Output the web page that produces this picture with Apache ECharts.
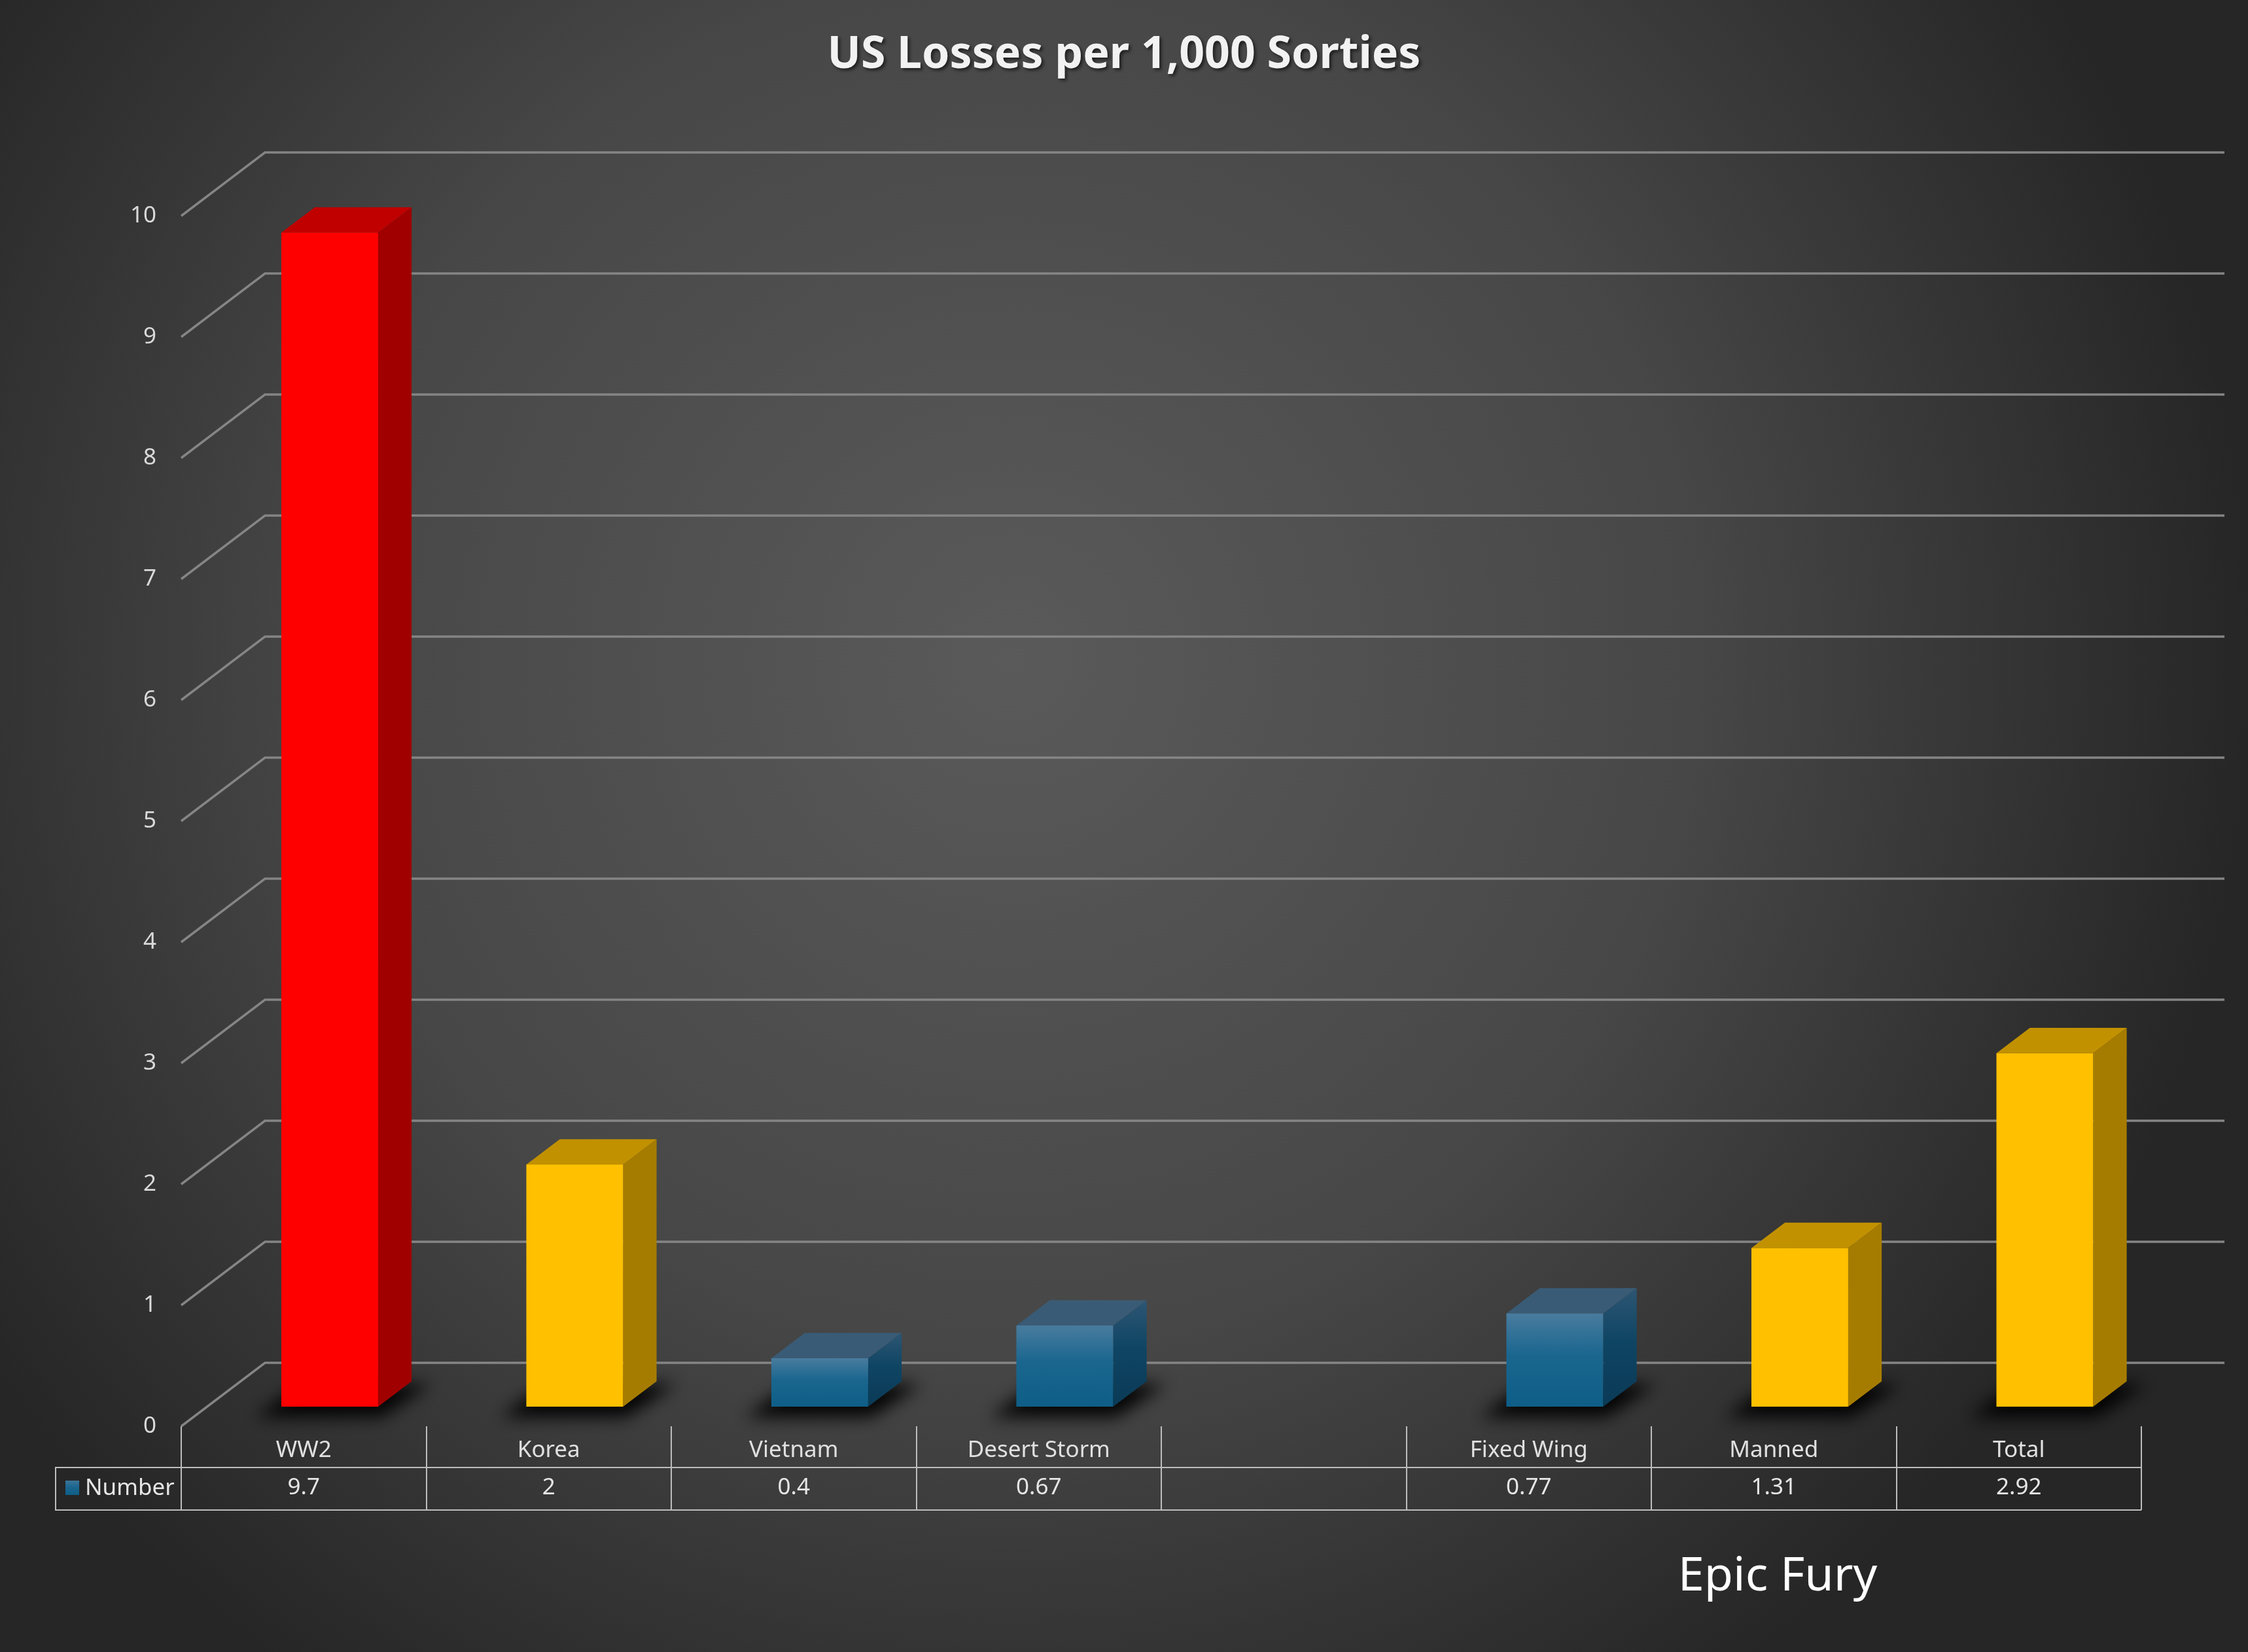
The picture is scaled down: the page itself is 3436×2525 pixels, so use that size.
<!DOCTYPE html>
<html>
<head>
  <meta charset="UTF-8">
  <script src="https://cdn.jsdelivr.net/npm/echarts@6/dist/echarts.min.js"></script>
  <title>US Losses per 1,000 Sorties</title>
  <style>
    html, body { margin: 0; padding: 0; background: #333; }
    #chart { width: 3436px; height: 2525px; }
  </style>
</head>
<body>
  <div id="chart"></div>
  <script>
    // data
    const categories = ['WW2', 'Korea', 'Vietnam', 'Desert Storm', '', 'Fixed Wing', 'Manned', 'Total'];
    const losses = [9.7, 2, 0.4, 0.67, null, 0.77, 1.31, 2.92];
    const barKinds = ['red', 'yellow', 'blue', 'blue', null, 'blue', 'yellow', 'yellow'];
    const yTicks = [0, 1, 2, 3, 4, 5, 6, 7, 8, 9, 10];

    // depth of the fake 3d box (pixels) and where the bars sit in it
    const DX = 128, DY = 97;
    const FRONT = 0.31, BACK = 0.71;
    const FONT = '"Noto Sans", "Open Sans", sans-serif';
    const FAR = 6000; // shadow shapes are drawn off canvas, only their blur shows

    function vgrad(a, b, c) {
      return new echarts.graphic.LinearGradient(0, 0, 0, 1, [
        { offset: 0, color: a }, { offset: 0.45, color: b }, { offset: 1, color: c }
      ]);
    }
    const faces = {
      red: { front: '#ff0000', top: '#c00000', side: '#a00000' },
      yellow: { front: '#ffc000', top: '#c29100', side: '#a67c00' },
      blue: {
        front: vgrad('#497c9e', '#1a668f', '#0e5e87'),
        top: '#3a5b75',
        side: vgrad('#2d5673', '#0f4564', '#0a3a56')
      }
    };

    const barData = [];
    losses.forEach((v, i) => { if (v != null) barData.push([i, v]); });
    const gridData = yTicks.map(t => [0, t]);
    const tableData = losses.map((v, i) => [i, 0]);

    function renderGridLine(params, api) {
      const p = api.coord([0, api.value(1)]);
      const band = api.size([1, 0])[0];
      const x0 = p[0] - band / 2;
      const xEnd = x0 + band * categories.length + DX - 1;
      return {
        type: 'polyline',
        shape: { points: [[x0, p[1]], [x0 + DX, p[1] - DY], [xEnd, p[1] - DY]] },
        style: { stroke: '#858585', lineWidth: 3.5, fill: null }
      };
    }

    function renderBar(params, api) {
      const i = api.value(0), v = api.value(1);
      const base = api.coord([i, 0]);
      const top = api.coord([i, v]);
      const band = api.size([1, 0])[0];
      const w = band * 0.395;
      const x1 = base[0] - w / 2 + DX * FRONT, x2 = x1 + w;
      const yb = base[1] - DY * FRONT, yt = top[1] - DY * FRONT;
      const dx = DX * (BACK - FRONT), dy = DY * (BACK - FRONT);
      const f = faces[barKinds[i]];
      const sh = [[x1 - 40, yb + 16], [x2 + 5, yb + 16], [x2 + dx + 30, yb - dy + 4], [x1 + dx - 20, yb - dy + 4]];
      return {
        type: 'group',
        children: [
          {
            type: 'polygon',
            shape: { points: sh.map(p => [p[0] - FAR, p[1]]) },
            style: {
              fill: '#000', shadowBlur: 26, shadowColor: 'rgba(0,0,0,0.95)',
              shadowOffsetX: FAR, shadowOffsetY: 0
            }
          },
          {
            type: 'polygon',
            shape: { points: [[x2, yb], [x2 + dx, yb - dy], [x2 + dx, yt - dy], [x2, yt]] },
            style: { fill: f.side }
          },
          {
            type: 'polygon',
            shape: { points: [[x1, yt], [x2, yt], [x2 + dx, yt - dy], [x1 + dx, yt - dy]] },
            style: { fill: f.top }
          },
          {
            type: 'rect',
            shape: { x: x1, y: yt, width: w, height: yb - yt },
            style: { fill: f.front }
          }
        ]
      };
    }

    function renderTableValue(params, api) {
      const p = api.coord([api.value(0), 0]);
      const v = losses[params.dataIndex];
      return {
        type: 'text',
        x: p[0], y: p[1] + 94,
        style: {
          text: v == null ? '' : String(v), fill: '#e6e6e6', font: '35px ' + FONT,
          align: 'center', verticalAlign: 'middle'
        }
      };
    }

    const chart = echarts.init(document.getElementById('chart'));
    chart.setOption({
      animation: false,
      backgroundColor: {
        type: 'radial', x: 0.45, y: 0.4, r: 0.75,
        colorStops: [
          { offset: 0, color: '#5a5a5a' },
          { offset: 0.55, color: '#474747' },
          { offset: 1, color: '#262626' }
        ]
      },
      title: {
        text: 'US Losses per 1,000 Sorties',
        left: 'center', top: 42,
        textStyle: {
          color: '#f2f2f2', fontFamily: FONT, fontWeight: 'bold', fontSize: 68,
          lineHeight: 76,
          textShadowColor: 'rgba(0,0,0,0.6)', textShadowBlur: 5,
          textShadowOffsetX: 3, textShadowOffsetY: 3
        }
      },
      grid: { left: 277, right: 163, top: 330, bottom: 345 },
      xAxis: {
        type: 'category',
        data: categories,
        axisLine: { show: false },
        axisTick: { show: true, length: 128, lineStyle: { color: '#bdbdbd', width: 2 } },
        axisLabel: { color: '#e0e0e0', fontSize: 35, fontFamily: FONT, margin: 20, interval: 0 },
        splitLine: { show: false }
      },
      yAxis: {
        type: 'value', min: 0, max: 10, interval: 1,
        axisLine: { show: false },
        axisTick: { show: false },
        splitLine: { show: false },
        axisLabel: { color: '#d9d9d9', fontSize: 35, fontFamily: FONT, margin: 38 }
      },
      graphic: [
        { type: 'line', shape: { x1: 84, y1: 2243, x2: 3273, y2: 2243 }, style: { stroke: '#bdbdbd', lineWidth: 2 } },
        { type: 'line', shape: { x1: 84, y1: 2308, x2: 3273, y2: 2308 }, style: { stroke: '#bdbdbd', lineWidth: 2 } },
        { type: 'line', shape: { x1: 85, y1: 2243, x2: 85, y2: 2308 }, style: { stroke: '#bdbdbd', lineWidth: 2 } },
        {
          type: 'rect', shape: { x: 100, y: 2263, width: 21, height: 22 },
          style: { fill: vgrad('#3d7598', '#1a668f', '#0e5e87') }
        },
        {
          type: 'text', x: 130, y: 2275,
          style: { text: 'Number', fill: '#e6e6e6', font: '35px ' + FONT, verticalAlign: 'middle' }
        },
        {
          type: 'text', x: 2717, y: 2410,
          style: { text: 'Epic Fury', fill: '#ffffff', font: '72px ' + FONT, align: 'center', verticalAlign: 'middle' }
        }
      ],
      series: [
        { type: 'custom', data: gridData, renderItem: renderGridLine, z: 1, silent: true },
        { type: 'custom', data: barData, renderItem: renderBar, z: 3 },
        { type: 'custom', data: tableData, renderItem: renderTableValue, z: 2, silent: true }
      ]
    });
  </script>
</body>
</html>
